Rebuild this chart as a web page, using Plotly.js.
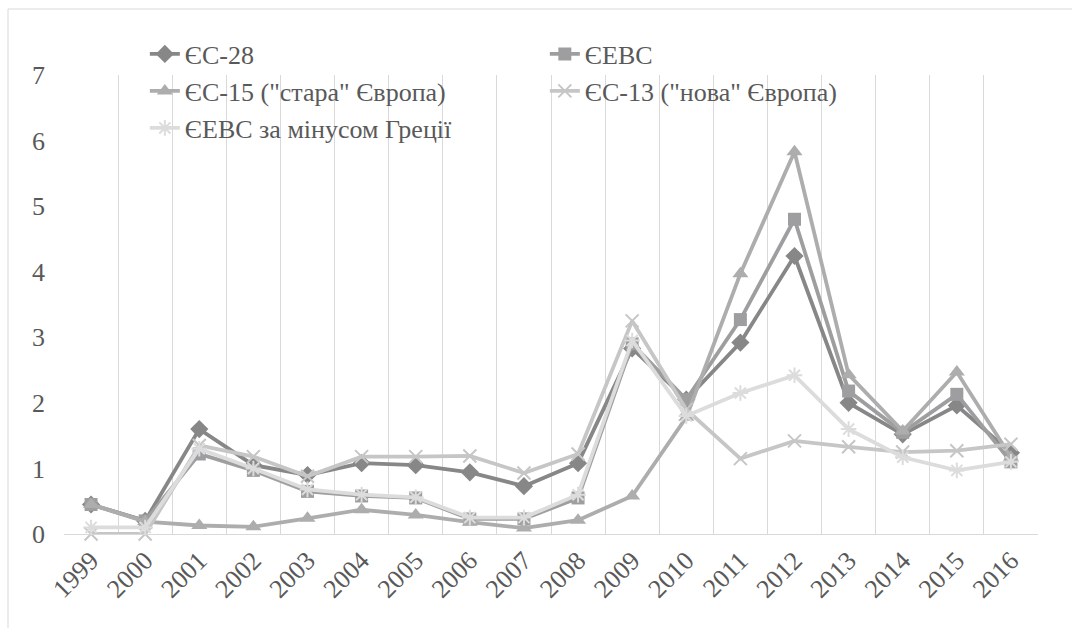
<!DOCTYPE html>
<html>
<head>
<meta charset="utf-8">
<script src="https://cdn.plot.ly/plotly-3.0.1.min.js"></script>
<style>html,body{margin:0;padding:0;background:#fff;}#chart{width:1072px;height:628px;}</style>
</head>
<body>
<div id="chart"></div>
<script>
const years = ["1999","2000","2001","2002","2003","2004","2005","2006","2007","2008","2009","2010","2011","2012","2013","2014","2015","2016"];
const eu28 = [0.45,0.20,1.60,1.05,0.90,1.08,1.05,0.94,0.73,1.08,2.83,2.05,2.92,4.24,2.00,1.52,1.96,1.24];
const euro = [0.45,0.20,1.22,0.97,0.65,0.58,0.55,0.23,0.23,0.55,2.90,2.05,3.27,4.80,2.18,1.55,2.13,1.10];
const eu15 = [0.45,0.19,0.13,0.11,0.24,0.37,0.29,0.18,0.09,0.21,0.58,1.78,3.97,5.83,2.43,1.57,2.47,1.17];
const eu13 = [0.00,0.00,1.35,1.18,0.88,1.18,1.18,1.19,0.93,1.22,3.25,1.90,1.15,1.42,1.33,1.25,1.27,1.37];
const euroNoGr = [0.10,0.10,1.30,1.00,0.68,0.60,0.56,0.25,0.25,0.60,2.95,1.80,2.15,2.42,1.60,1.17,0.97,1.10];
const names = ["ЄС-28","ЄЕВС","ЄС-15 (\"стара\" Європа)","ЄС-13 (\"нова\" Європа)","ЄЕВС за мінусом Греції"];

const font = "Liberation Serif";
const FS = 26;
const TOP = 75, BOT = 534, H = BOT - TOP;
function tr(y, name, color, symbol, size, open, leg) {
  return {
    x: years, y: y, name: name, type: 'scatter', mode: 'lines+markers',
    line: {color: color, width: 3.8},
    marker: open ? {symbol: symbol, size: size, color: color, line: {color: color, width: 2}}
                 : {symbol: symbol, size: size, color: color},
    cliponaxis: false, legend: leg
  };
}
const data = [
  tr(eu28, names[0], '#878787', 'diamond', 14, false, 'legend'),
  tr(euro, names[1], '#9e9ea0', 'square', 13, false, 'legend'),
  tr(eu15, names[2], '#adadad', 'triangle-up', 14, false, 'legend2'),
  tr(eu13, names[3], '#c6c6c6', 'x-thin-open', 13, true, 'legend2'),
  tr(euroNoGr, names[4], '#dcdcdc', 'asterisk-open', 13, true, 'legend3')
];
function leg(yc) {
  return {orientation: 'h', x: 0.083, xanchor: 'left', y: (BOT - yc) / H, yanchor: 'middle',
          entrywidth: 355, bgcolor: 'rgba(0,0,0,0)', font: {family: font, size: FS, color: '#595959'},
          tracegroupgap: 0};
}
const layout = {
  width: 1072, height: 628,
  margin: {l: 64, r: 34, t: TOP, b: 628 - BOT},
  paper_bgcolor: '#fff', plot_bgcolor: '#fff',
  font: {family: font, size: FS, color: '#595959'},
  showlegend: true,
  legend: leg(54), legend2: leg(91), legend3: leg(128),
  xaxis: {type: 'category', range: [-0.5, 17.5], tickson: 'boundaries', showgrid: true, gridcolor: '#d9d9d9', gridwidth: 1,
          showline: true, linecolor: '#d9d9d9', ticks: '', tickangle: -45,
          tickfont: {family: font, size: FS, color: '#595959'}, fixedrange: true},
  yaxis: {range: [0, 7], dtick: 1, showgrid: false, zeroline: false, showline: false, ticks: '',
          ticklabelstandoff: 18, tickfont: {family: font, size: FS, color: '#595959'}},
  shapes: [
    {type: 'rect', xref: 'paper', yref: 'paper', x0: (8-64)/974, x1: (1090-64)/974,
     y0: (BOT-660)/H, y1: (BOT-9)/H, line: {color: '#d9d9d9', width: 1}, layer: 'below'},
    {type: 'rect', xref: 'paper', yref: 'paper', x0: (100-64)/974, x1: (950-64)/974,
     y0: (BOT-142)/H, y1: (BOT-30)/H, line: {width: 0}, fillcolor: '#ffffff', layer: 'between'}
  ]
};
Plotly.newPlot('chart', data, layout, {staticPlot: true});
</script>
</body>
</html>
